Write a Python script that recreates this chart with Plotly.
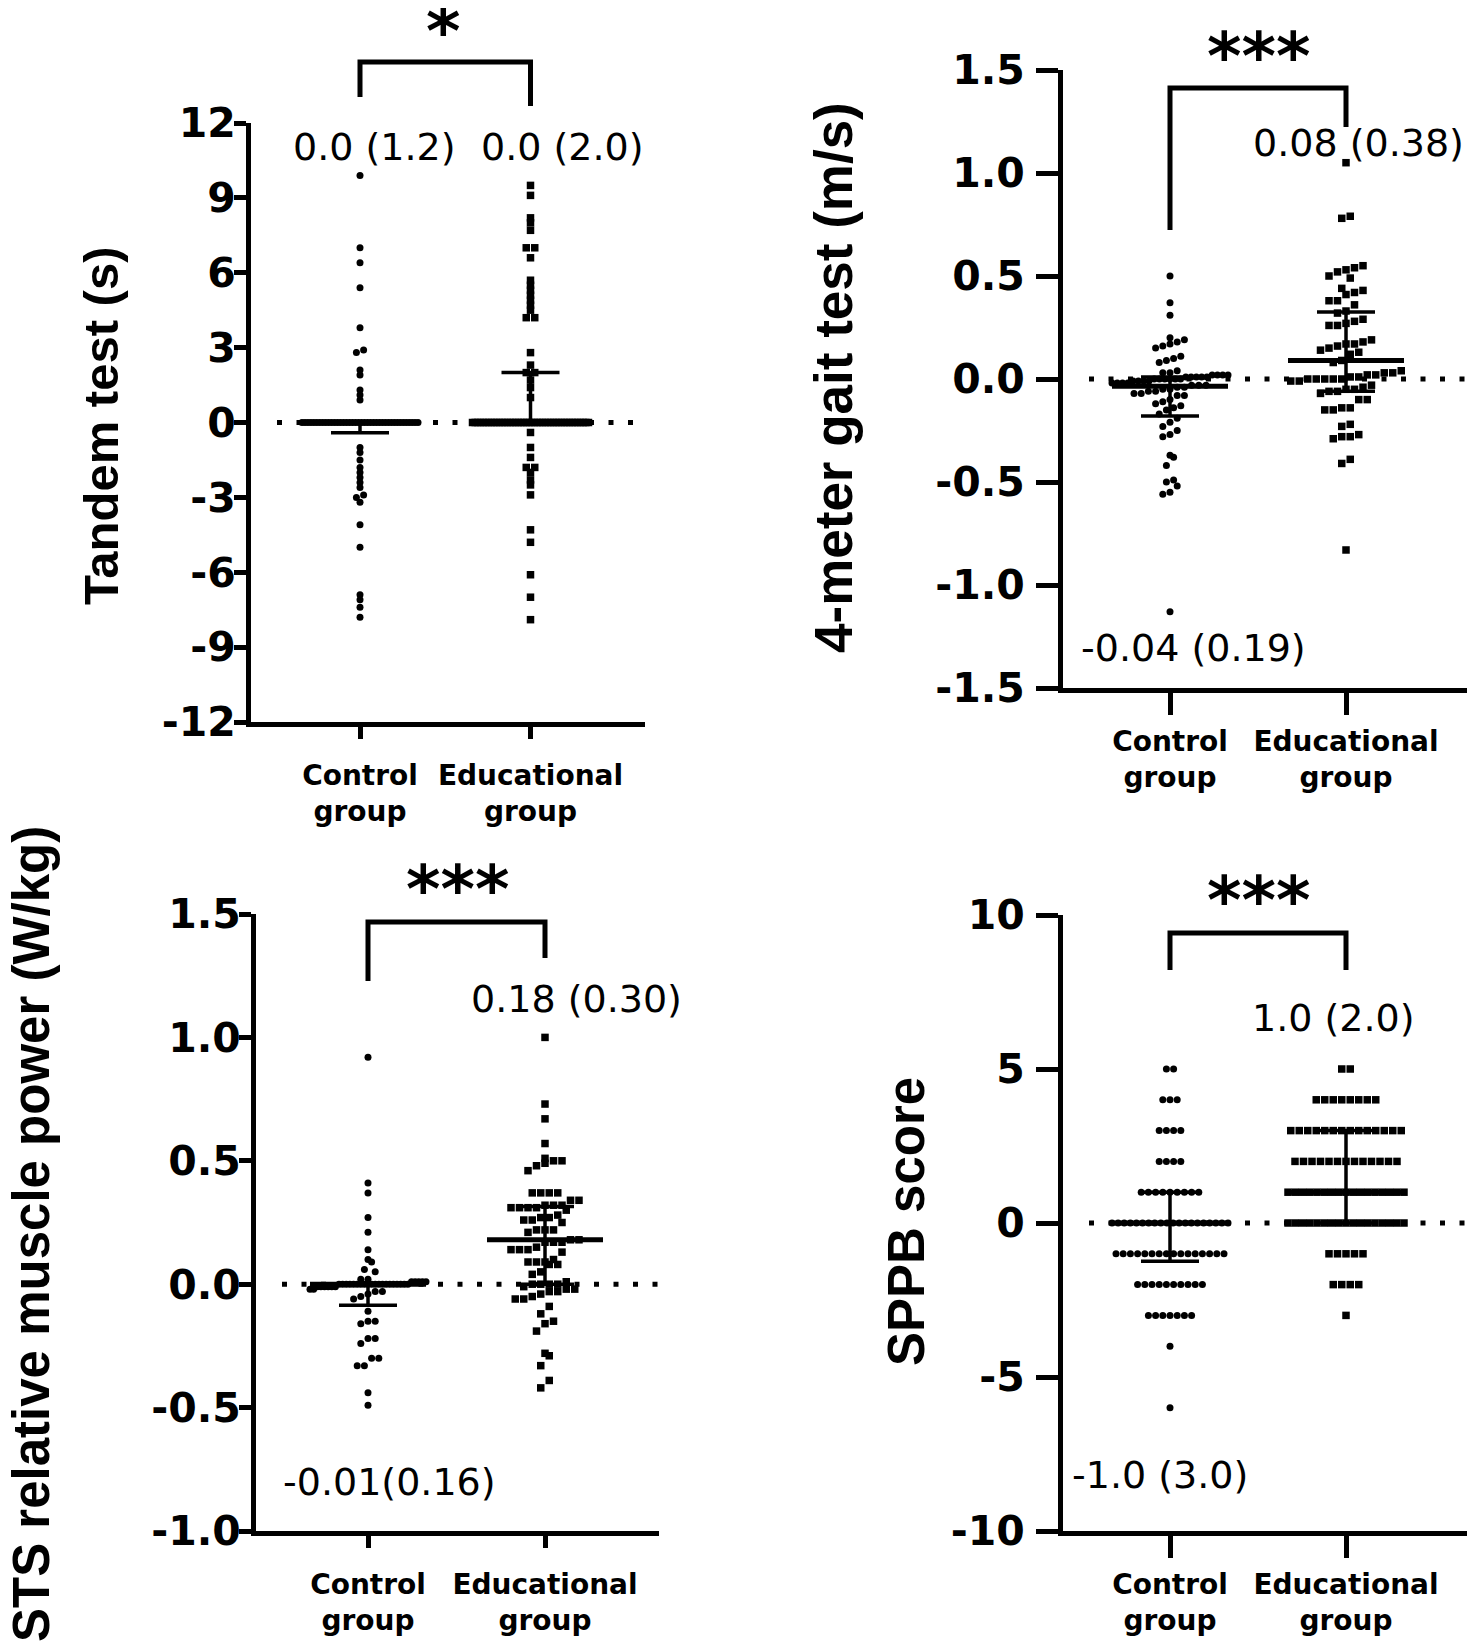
import numpy as np
import plotly.graph_objects as go

W, H = 1477, 1650
PAGE_PAD = 8  # default body margin of the page the figure sits in

groups = ["Control<br>group", "Educational<br>group"]

# ---- Tandem test (s) ----
tandem_control = [9.9, 7.0, 6.4, 5.4, 3.8, 2.9, 2.8, 2.1, 1.9, 1.3, 1.1, 0.9,
                  -1.0, -1.2, -1.5, -1.8, -2.0, -2.2, -2.4, -2.6, -2.9, -3.0, -3.2,
                  -4.1, -5.0, -6.9, -7.1, -7.4, -7.8]
tandem_control_zeros = 40
tandem_edu = [9.5, 9.1, 8.2, 8.0, 7.7, 7.0, 7.0, 6.6, 5.7, 5.5, 5.3, 5.1, 4.9, 4.7,
              4.5, 4.2, 4.2, 2.8, 2.3, 2.0, 2.0, 1.7, 1.4, 1.0,
              -0.4, -1.0, -1.4, -1.8, -1.8, -2.0, -2.3, -2.5, -2.9, -4.3, -4.8,
              -6.1, -7.0, -7.9]
tandem_edu_zeros = 44
tandem_mid = [0.0, 0.0]
tandem_low = [-0.41, 0.0]
tandem_high = [0.0, 2.0]

# ---- 4-meter gait test (m/s) ----
gait_control = [0.50, 0.37, 0.31, 0.20, 0.19, 0.18, 0.17, 0.16, 0.15, 0.11, 0.10,
                0.09, 0.08, 0.04, 0.03, 0.03, 0.02, 0.02, 0.02, 0.02, 0.01, 0.01,
                0.01, 0.01, 0.01, 0.0, 0.0, 0.0, 0.0, 0.0, 0.0, -0.01, -0.01,
                -0.01, -0.01, -0.02, -0.02, -0.02, -0.02, -0.03, -0.03, -0.03,
                -0.04, -0.04, -0.05, -0.05, -0.06, -0.06, -0.07, -0.07, -0.08,
                -0.08, -0.10, -0.11, -0.12, -0.13, -0.14, -0.15, -0.17, -0.19,
                -0.21, -0.23, -0.25, -0.27, -0.28, -0.37, -0.38, -0.42, -0.49,
                -0.50, -0.52, -0.55, -0.56, -1.13]
gait_edu = [1.05, 0.79, 0.78, 0.55, 0.54, 0.53, 0.52, 0.50, 0.49, 0.44, 0.43,
            0.42, 0.41, 0.38, 0.38, 0.36, 0.33, 0.32, 0.29, 0.28, 0.27, 0.26,
            0.26, 0.19, 0.18, 0.17, 0.17, 0.16, 0.15, 0.14, 0.13, 0.12, 0.09,
            0.08, 0.04, 0.03, 0.03, 0.02, 0.02, 0.01, 0.01, 0.0, 0.0, 0.0,
            0.0, 0.0, -0.01, -0.01, -0.03, -0.04, -0.05, -0.05, -0.06, -0.06,
            -0.07, -0.10, -0.10, -0.14, -0.14, -0.15, -0.15, -0.22, -0.23,
            -0.27, -0.28, -0.28, -0.29, -0.39, -0.41, -0.83]
gait_mid = [-0.035, 0.09]
gait_low = [-0.18, -0.06]
gait_high = [0.01, 0.325]

# ---- STS relative muscle power (W/kg) ----
sts_control = [0.92, 0.41, 0.37, 0.27, 0.21, 0.14, 0.10, 0.09, 0.06, 0.05,
               0.02, 0.02, 0.01, 0.01, 0.01, 0.01, 0.01,
               -0.01, -0.01, -0.01, -0.01, -0.01, -0.01,
               -0.02, -0.02, -0.03, -0.03, -0.04, -0.05, -0.06,
               -0.11, -0.15, -0.15, -0.16, -0.22, -0.22, -0.24, -0.30, -0.30,
               -0.33, -0.33, -0.44, -0.49]
sts_control_zeros = 20
sts_edu = [1.00, 0.73, 0.67, 0.57, 0.51, 0.50, 0.50, 0.49, 0.48, 0.46,
           0.37, 0.37, 0.37, 0.37, 0.34, 0.34, 0.32, 0.32, 0.32, 0.31, 0.31,
           0.31, 0.31, 0.30, 0.28, 0.27, 0.27, 0.26, 0.26, 0.25, 0.22, 0.22,
           0.22, 0.21, 0.18, 0.18, 0.17, 0.17, 0.17, 0.15, 0.14, 0.14, 0.14,
           0.13, 0.10, 0.09, 0.09, 0.09, 0.08, 0.08, 0.05, 0.04, 0.01, 0.0,
           0.0, 0.0, 0.0, -0.01, -0.02, -0.02, -0.03, -0.03, -0.04, -0.05,
           -0.06, -0.06, -0.09, -0.12, -0.15, -0.16, -0.19, -0.28, -0.29,
           -0.33, -0.39, -0.42]
sts_mid = [0.0, 0.18]
sts_low = [-0.085, 0.0]
sts_high = [0.0, 0.315]

# ---- SPPB score (counts per score level) ----
sppb_levels = [5, 4, 3, 2, 1, 0, -1, -2, -3, -4, -6]
sppb_control_counts = [2, 3, 4, 4, 9, 20, 16, 10, 7, 1, 1]
sppb_edu_counts = [2, 8, 14, 13, 17, 17, 5, 4, 1, 0, 0]
sppb_mid = [0.0, 1.0]
sppb_low = [-1.24, 0.0]
sppb_high = [1.0, 3.0]

# group summaries written on the panels: median (IQR)
tandem_labels = ["0.0 (1.2)", "0.0 (2.0)"]
gait_labels = ["-0.04 (0.19)", "0.08 (0.38)"]
sts_labels = ["-0.01(0.16)", "0.18 (0.30)"]
sppb_labels = ["-1.0 (3.0)", "1.0 (2.0)"]
stars = ["*", "***", "***", "***"]

tandem_c = tandem_control + [0.0] * tandem_control_zeros
tandem_e = tandem_edu + [0.0] * tandem_edu_zeros
sts_c = sts_control + [0.0] * sts_control_zeros
sppb_c = [lv for lv, n in zip(sppb_levels, sppb_control_counts) for _ in range(n)]
sppb_e = [lv for lv, n in zip(sppb_levels, sppb_edu_counts) for _ in range(n)]

# panel geometry in page pixels:
# x = (y-axis, control, educational, right end), y = (top, bottom)
panels = [
    dict(data=(tandem_c, tandem_e), mid=tandem_mid, low=tandem_low, high=tandem_high,
         xs=(251, 360, 530.5, 645), ys=(123, 722), tl=12, ts=-10, rowf=0.5,
         yr=(-12, 12), ticks=list(range(-12, 13, 3)), fmt="{:d}",
         title="Tandem test (s)", tsize=49, tpos=(101, 426),
         labels=tandem_labels, lpos=[(374, 147), (562, 147)],
         star=(443, 26), brk=(62, 97, 106)),
    dict(data=(gait_control, gait_edu), mid=gait_mid, low=gait_low, high=gait_high,
         xs=(1063, 1170, 1346, 1467), ys=(70, 688), tl=22, ts=3, rowf=1.4,
         yr=(-1.5, 1.5), ticks=[-1.5, -1.0, -0.5, 0, 0.5, 1.0, 1.5], fmt="{:.1f}",
         title="4-meter gait test (m/s)", tsize=53, tpos=(833, 378),
         labels=gait_labels, lpos=[(1193, 648), (1358, 143)],
         star=(1259, 51), brk=(88, 230, 127)),
    dict(data=(sts_c, sts_edu), mid=sts_mid, low=sts_low, high=sts_high,
         xs=(256, 368, 545, 659), ys=(914, 1531), tl=12, ts=-10, rowf=1.4,
         yr=(-1.0, 1.5), ticks=[-1.0, -0.5, 0, 0.5, 1.0, 1.5], fmt="{:.1f}",
         title="STS relative muscle power (W/kg)", tsize=51, tpos=(31, 1234),
         labels=sts_labels, lpos=[(389, 1482), (576, 999)],
         star=(458, 883), brk=(922, 981, 958)),
    dict(data=(sppb_c, sppb_e), mid=sppb_mid, low=sppb_low, high=sppb_high,
         xs=(1063, 1170, 1346, 1467), ys=(915, 1531), tl=22, ts=3, rowf=0.5,
         yr=(-10, 10), ticks=[-10, -5, 0, 5, 10], fmt="{:d}",
         title="SPPB score", tsize=51, tpos=(906, 1222),
         labels=sppb_labels, lpos=[(1160, 1475), (1333, 1018)],
         star=(1259, 894), brk=(933, 970, 970)),
]


def swarm(vals, center, ppx, ppy, size, gap, half, rowf):
    # GraphPad-like column scatter: rows of points centred on the group
    v = np.sort(np.asarray(vals, float))
    xs, ys = [], []
    rowh = rowf * size / ppy
    i = 0
    while i < len(v):
        j = i
        while j < len(v) and v[j] - v[i] < rowh:
            j += 1
        n = j - i
        step = gap if n == 1 else min(gap, 2 * half / (n - 1))
        for k in range(n):
            xs.append(center + (k - (n - 1) / 2) * step / ppx)
            ys.append(v[i + k])
        i = j
    return xs, ys


def px(x):
    return (x - PAGE_PAD) / W


def py(y):
    return 1 - (y - PAGE_PAD) / H


fig = go.Figure()
shapes, annos = [], []
tickfont = dict(family="DejaVu Sans", size=41, color="black", weight="bold")
catfont = dict(family="DejaVu Sans", size=28, color="black", weight="bold")

for i, p in enumerate(panels):
    sfx = "" if i == 0 else str(i + 1)
    xa, ya = "x" + sfx, "y" + sfx
    ax, xc, xe, xr = p["xs"]
    t, b = p["ys"]
    y0, y1 = p["yr"]
    ppx = xe - xc
    xmin, xmax = (ax - xc) / ppx, (xr - xc) / ppx
    ppy = (b - t) / (y1 - y0)

    # dotted zero line
    shapes.append(dict(type="line", xref=xa, yref=ya, x0=xmin + 26 / ppx, x1=xmax,
                       y0=0, y1=0, layer="below",
                       line=dict(color="black", width=5, dash="5px,14.5px")))

    # points
    for g, (vals, sym, size, gap) in enumerate([(p["data"][0], "circle", 7, 7.2),
                                                 (p["data"][1], "square", 7.5, 8.5)]):
        xs, ys = swarm(vals, g, ppx, ppy, size, gap, 58, p["rowf"])
        fig.add_trace(go.Scatter(x=xs, y=ys, mode="markers", xaxis=xa, yaxis=ya,
                                 marker=dict(symbol=sym, size=size, color="black",
                                             line=dict(width=0)),
                                 hoverinfo="skip"))

    # median line and interquartile bars
    mx, my, ex, ey = [], [], [], []
    mh, ch = 58 / ppx, 29 / ppx
    for g in range(2):
        mx += [g - mh, g + mh, None]
        my += [p["mid"][g]] * 2 + [None]
        ex += [g, g, None, g - ch, g + ch, None, g - ch, g + ch, None]
        ey += [p["low"][g], p["high"][g], None, p["low"][g], p["low"][g], None,
               p["high"][g], p["high"][g], None]
    fig.add_trace(go.Scatter(x=ex, y=ey, mode="lines", xaxis=xa, yaxis=ya,
                             line=dict(color="black", width=3.5), hoverinfo="skip"))
    fig.add_trace(go.Scatter(x=mx, y=my, mode="lines", xaxis=xa, yaxis=ya,
                             line=dict(color="black", width=5), hoverinfo="skip"))

    fig.layout["xaxis" + sfx] = dict(
        domain=[px(ax), px(xr)], anchor=ya, range=[xmin, xmax], automargin=False,
        tickvals=[0, 1], ticktext=groups, tickfont=catfont,
        ticklabelstandoff=24 - p["tl"],
        showline=True, linewidth=5, linecolor="black", ticks="outside",
        ticklen=p["tl"], tickwidth=5, tickcolor="black", showgrid=False,
        zeroline=False, fixedrange=True)
    fig.layout["yaxis" + sfx] = dict(
        domain=[py(b), py(t)], anchor=xa, range=[y0, y1], automargin=False,
        tickvals=p["ticks"], ticktext=[p["fmt"].format(v) for v in p["ticks"]],
        tickfont=tickfont, ticklabelstandoff=p["ts"],
        showline=True, linewidth=5, linecolor="black",
        ticks="outside", ticklen=p["tl"], tickwidth=5, tickcolor="black",
        showgrid=False, zeroline=False, fixedrange=True)

    # axis title
    annos.append(dict(text=p["title"], x=px(p["tpos"][0]), y=py(p["tpos"][1]),
                      xref="paper", yref="paper", showarrow=False, textangle=-90,
                      xanchor="center", yanchor="middle",
                      font=dict(family="Liberation Sans", size=p["tsize"],
                                color="black", weight="bold")))
    # median (IQR) labels
    for txt, (lx, ly) in zip(p["labels"], p["lpos"]):
        annos.append(dict(text=txt, x=px(lx), y=py(ly), xref="paper", yref="paper",
                          showarrow=False, xanchor="center", yanchor="middle",
                          font=dict(family="DejaVu Sans", size=38, color="black")))
    # significance bracket
    top, dl, dr = p["brk"]
    shapes.append(dict(type="path", xref="paper", yref="paper",
                       path=f"M {px(xc)},{py(dl)} L {px(xc)},{py(top)} "
                            f"L {px(xe)},{py(top)} L {px(xe)},{py(dr)}",
                       line=dict(color="black", width=5)))
    annos.append(dict(text=stars[i], x=px(p["star"][0]), y=py(p["star"][1] + 6),
                      xref="paper", yref="paper", showarrow=False,
                      xanchor="center", yanchor="middle",
                      font=dict(family="DejaVu Sans", size=66, color="black",
                                weight="bold")))

fig.update_layout(width=W, height=H, margin=dict(l=0, r=0, t=0, b=0, autoexpand=False),
                  paper_bgcolor="white", plot_bgcolor="white", showlegend=False,
                  shapes=shapes, annotations=annos)

fig.write_html("out.html")
